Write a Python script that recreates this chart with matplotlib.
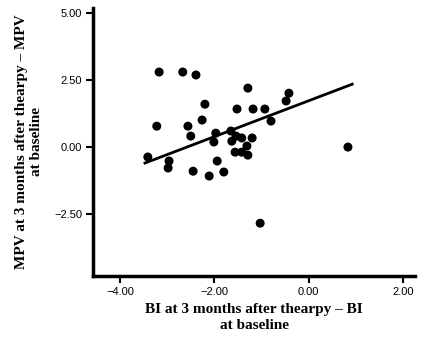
import numpy as np
import matplotlib
matplotlib.use("Agg")
import matplotlib.pyplot as plt

# change in BI (x) vs change in MPV (y)
bi_change = [-3.17, -2.67, -2.39, -2.20, -3.22, -2.56, -2.26, -2.50, -1.97, -2.01,
             -3.41, -2.96, -2.98, -2.45, -2.11, -1.94, -1.80, -1.29, -0.42, -0.48,
             -1.52, -1.18, -0.93, -0.80, -1.65, -1.54, -1.42, -1.20, -1.31, -1.56,
             -1.42, -1.29, 0.83, -1.03, -1.63]
mpv_change = [2.80, 2.80, 2.69, 1.60, 0.78, 0.78, 1.01, 0.41, 0.52, 0.19,
              -0.37, -0.52, -0.78, -0.90, -1.08, -0.52, -0.93, 2.20, 2.01, 1.72,
              1.42, 1.42, 1.42, 0.97, 0.60, 0.41, 0.34, 0.34, 0.04, -0.19,
              -0.19, -0.30, 0.00, -2.84, 0.22]

# fit line as drawn in the figure
fit_slope = 0.67
fit_intercept = 1.73
fit_range = [-3.47, 0.92]

x_ticks = [-4, -2, 0, 2]
y_ticks = [-2.5, 0, 2.5, 5]

fig = plt.figure(figsize=(4.23, 3.41), dpi=100)
ax = fig.add_axes([0.22, 0.1906, 0.761, 0.786])

ax.scatter(bi_change, mpv_change, s=42, c="black", edgecolors="none", zorder=3)

xl = np.array(fit_range)
ax.plot(xl, fit_slope * xl + fit_intercept, color="black", lw=2)

ax.set_xlim(-4.57, 2.25)
ax.set_ylim(-4.81, 5.19)
ax.set_xticks(x_ticks)
ax.set_yticks(y_ticks)
ax.set_xticklabels([f"{v:.2f}".replace("-", "\u2212") for v in x_ticks],
                   fontfamily="Liberation Sans", fontsize=8)
ax.set_yticklabels([f"{v:.2f}".replace("-", "\u2212") for v in y_ticks],
                   fontfamily="Liberation Sans", fontsize=8)

for s in ["top", "right"]:
    ax.spines[s].set_visible(False)
for s in ["left", "bottom"]:
    ax.spines[s].set_linewidth(2.5)
ax.tick_params(direction="out", length=5, width=1.5, pad=3)

ax.set_xlabel("BI at 3 months after thearpy \u2013 BI\nat baseline",
              fontfamily="Liberation Serif", fontweight="bold", fontsize=11,
              linespacing=1.35, labelpad=4)
ax.set_ylabel("MPV at 3 months after thearpy \u2013 MPV\nat baseline",
              fontfamily="Liberation Serif", fontweight="bold", fontsize=11,
              linespacing=1.15, labelpad=8)

fig.savefig("out.png", dpi=100)
